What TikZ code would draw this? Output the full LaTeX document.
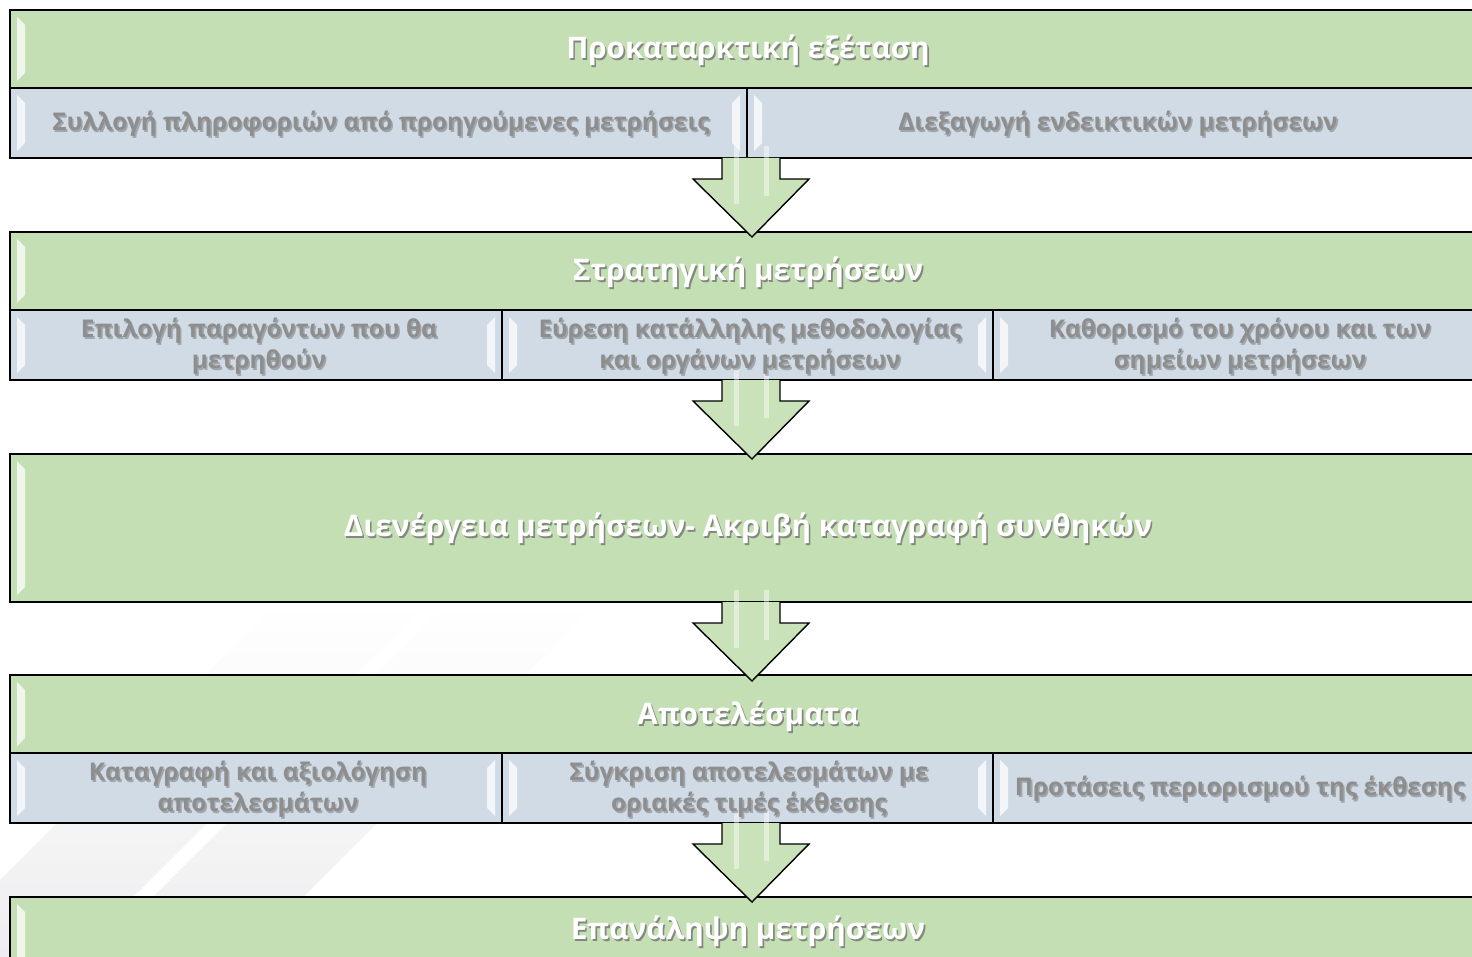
\documentclass[tikz,border=0pt]{standalone}
\usepackage{fontspec}
\setmainfont{Open Sans}
\usetikzlibrary{calc}
\definecolor{boxgreen}{HTML}{C4DFB3}
\definecolor{boxblue}{HTML}{D0DBE6}
\definecolor{subgray}{HTML}{8E8E8E}
\definecolor{bandgray}{HTML}{EEEEF0}
\tikzset{
  grnbox/.style={draw=black, line width=1.4pt, fill=boxgreen, anchor=north west, inner sep=0pt, outer sep=0pt},
  blubox/.style={draw=black, line width=1.4pt, fill=boxblue, anchor=north west, inner sep=0pt, outer sep=0pt},
  titletxt/.style={font=\bfseries\fontsize{29.7}{34}\selectfont, text=white, align=center, inner sep=0pt},
  subtxt/.style={font=\bfseries\fontsize{24.4}{31}\selectfont, text=subgray, align=center, inner sep=0pt},
  titletxtshadow/.style={text=black!55, opacity=0.8},
  subtxtshadow/.style={text=black!60, opacity=0.45},
  bevel/.style={fill=white, opacity=0.75},
  arrowfill/.style={fill=boxgreen!92!white},
  arrowline/.style={draw=black, line width=1.4pt, line join=miter},
  streak/.style={fill=white, opacity=0.45}
}
\newcommand\boxlabel[4]{%
  \node[#3, #3shadow] (#1s) at ([shift={(1.6,1.8)}]#2) {#4};
  \node[#3] (#1) at (#2) {#4};}
\newcommand\leftbevel[3]{% x, ytop, ybottom
  \fill[bevel] (#1,#2+7) -- (#1+8,#2+15) -- (#1+8,#3-15) -- (#1,#3-7) -- cycle;}
\newcommand\rightbevel[3]{%
  \fill[bevel] (#1,#2+7) -- (#1-8,#2+15) -- (#1-8,#3-15) -- (#1,#3-7) -- cycle;}
\newcommand\flowarrow[1]{%
  \begin{scope}[shift={(#1)}]
    \fill[arrowfill] (-29,0) -- (-29,21) -- (-58,21) -- (1,79) -- (58,21) -- (29,21) -- (29,0) -- cycle;
    \fill[streak] (-17,-12) rectangle (-12,46);
    \fill[streak] (13,-12) rectangle (18,38);
    \fill[streak] (32,50) -- (37,46) -- (14,72) -- (10,72) -- cycle;
    \draw[arrowline] (-29,0) -- (-29,21) -- (-58,21) -- (1,79) -- (58,21) -- (29,21) -- (29,0);
  \end{scope}}
\begin{document}
\begin{tikzpicture}[x=1pt,y=-1pt]
\useasboundingbox (0,0) rectangle (1472,957);
\clip (0,0) rectangle (1472,957);
\fill[white] (0,0) rectangle (1472,957);
% faint background bands
\begin{scope}
  \clip (0,957) -- (0,880) -- (320,560) -- (470,560) -- (73,957) -- cycle
        (93,957) -- (490,560) -- (640,560) -- (243,957) -- cycle;
  \shade[top color=white, bottom color=bandgray] (0,600) rectangle (700,957);
\end{scope}

% ---- group 1
\node[grnbox, minimum width=1476pt, minimum height=78pt] (g1) at (10,10) {};
\node[blubox, minimum width=737pt, minimum height=70pt] (c11) at (10,88) {};
\node[blubox, minimum width=739pt, minimum height=70pt] (c12) at (747,88) {};
\leftbevel{17}{10}{88}
\leftbevel{17}{88}{158}\rightbevel{740}{88}{158}
\leftbevel{754}{88}{158}

% ---- group 2
\node[grnbox, minimum width=1476pt, minimum height=78pt] (g2) at (10,232) {};
\node[blubox, minimum width=492pt, minimum height=70pt] (c21) at (10,310) {};
\node[blubox, minimum width=491pt, minimum height=70pt] (c22) at (502,310) {};
\node[blubox, minimum width=493pt, minimum height=70pt] (c23) at (993,310) {};
\leftbevel{17}{232}{310}
\leftbevel{17}{310}{380}\rightbevel{495}{310}{380}
\leftbevel{509}{310}{380}\rightbevel{986}{310}{380}
\leftbevel{1000}{310}{380}

% ---- group 3
\node[grnbox, minimum width=1476pt, minimum height=148pt] (g3) at (10,454) {};
\leftbevel{17}{454}{602}

% ---- group 4
\node[grnbox, minimum width=1476pt, minimum height=78pt] (g4) at (10,675) {};
\node[blubox, minimum width=492pt, minimum height=70pt] (c41) at (10,753) {};
\node[blubox, minimum width=491pt, minimum height=70pt] (c42) at (502,753) {};
\node[blubox, minimum width=493pt, minimum height=70pt] (c43) at (993,753) {};
\leftbevel{17}{675}{753}
\leftbevel{17}{753}{823}\rightbevel{495}{753}{823}
\leftbevel{509}{753}{823}\rightbevel{986}{753}{823}
\leftbevel{1000}{753}{823}

% ---- group 5
\node[grnbox, minimum width=1476pt, minimum height=78pt] (g5) at (10,897) {};
\leftbevel{17}{897}{975}

% ---- arrows
\coordinate (a1) at (751,158);
\coordinate (a2) at (751,380);
\coordinate (a3) at (751,602);
\coordinate (a4) at (751,823);
\flowarrow{a1}
\flowarrow{a2}
\flowarrow{a3}
\flowarrow{a4}

% ---- labels
\boxlabel{t1}{748,50}{titletxt}{Προκαταρκτική εξέταση}
\boxlabel{s11}{381,124}{subtxt}{Συλλογή πληροφοριών από προηγούμενες μετρήσεις}
\boxlabel{s12}{1118,124}{subtxt}{Διεξαγωγή ενδεικτικών μετρήσεων}
\boxlabel{t2}{748,272}{titletxt}{Στρατηγική μετρήσεων}
\boxlabel{s21}{259,346}{subtxt}{Επιλογή παραγόντων που θα\\μετρηθούν}
\boxlabel{s22}{750,346}{subtxt}{Εύρεση κατάλληλης μεθοδολογίας\\και οργάνων μετρήσεων}
\boxlabel{s23}{1240,346}{subtxt}{Καθορισμό του χρόνου και των\\σημείων μετρήσεων}
\boxlabel{t3}{748,528}{titletxt}{Διενέργεια μετρήσεων- Ακριβή καταγραφή συνθηκών}
\boxlabel{t4}{748,716}{titletxt}{Αποτελέσματα}
\boxlabel{s41}{258,789}{subtxt}{Καταγραφή και αξιολόγηση\\αποτελεσμάτων}
\boxlabel{s42}{749,789}{subtxt}{Σύγκριση αποτελεσμάτων με\\οριακές τιμές έκθεσης}
\boxlabel{s43}{1240,789}{subtxt}{Προτάσεις περιορισμού της έκθεσης}
\boxlabel{t5}{748,931}{titletxt}{Επανάληψη μετρήσεων}
\end{tikzpicture}
\end{document}
